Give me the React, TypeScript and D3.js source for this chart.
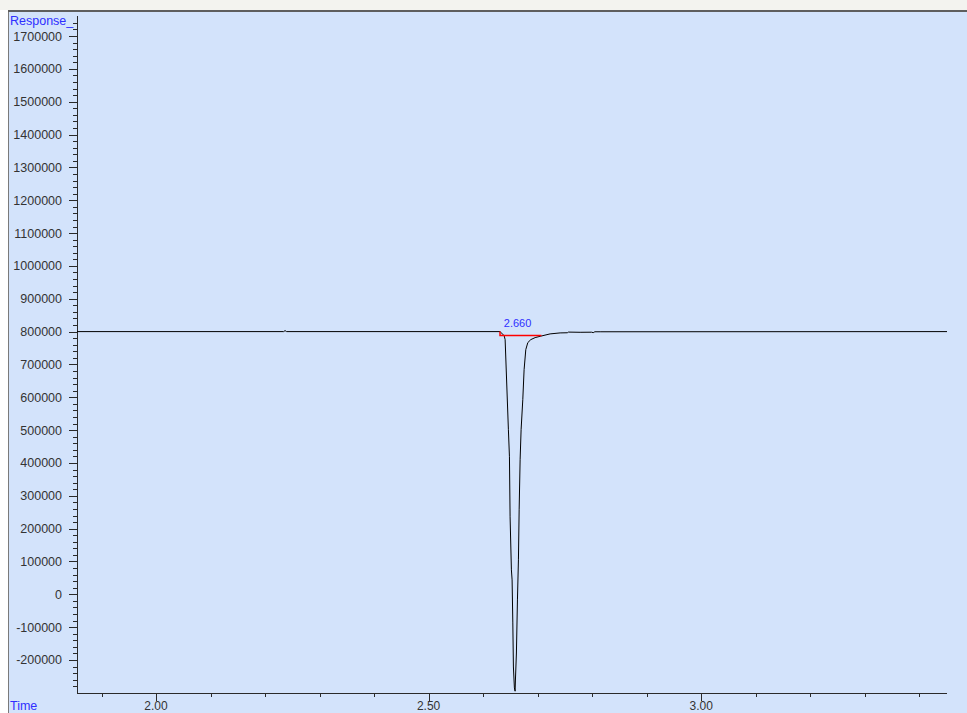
import React from "react";
import * as d3 from "d3";

// trace points (time in min, response)
const times = [
  1.855, 2.234, 2.2367, 2.2395, 2.631, 2.6385, 2.6404, 2.6464, 2.6483, 2.6495,
  2.6519, 2.6532, 2.6545, 2.6556, 2.6574, 2.6587, 2.6593, 2.6611, 2.663,
  2.6648, 2.6661, 2.6679, 2.6697, 2.6728, 2.6752, 2.6783, 2.682, 2.6875,
  2.6954, 2.7046, 2.7229, 2.7413, 2.7545, 2.7565, 2.778, 2.799, 2.802, 2.805,
  2.8147, 3.451,
];
const responses = [
  800000, 800000, 803000, 800000, 800000, 787800, 775600, 501200, 418900,
  236000, 74400, 43900, -87200, -221300, -285000, -295000, -261000, -178700,
  -17000, 105000, 257300, 409800, 501200, 592700, 684100, 745100, 766500,
  775600, 781700, 785700, 793000, 796000, 796500, 798500, 797900, 798200,
  796800, 799500, 799500, 800000,
];

// integration baseline (red)
const baseTimes = [2.631, 2.631, 2.707];
const baseValues = [800000, 788500, 788500];

const peakLabel = "2.660";
const peakTime = 2.66;

const majorY = d3.range(-200000, 1700001, 100000);
const minorY = d3.range(-280000, 1740001, 20000).filter((v) => v % 100000 !== 0);
const majorX = [2.0, 2.5, 3.0];
const minorX = [1.9, 2.1, 2.2, 2.3, 2.4, 2.6, 2.7, 2.8, 2.9, 3.1, 3.2, 3.3, 3.4];

const W = 967;
const H = 713;

export default function App() {
  const x = d3.scaleLinear().domain([1.855, 3.451]).range([77, 947]);
  const y = d3.scaleLinear().domain([-300500, 1758000]).range([693, 17]);

  const pts: [number, number][] = times.map((t, i) => [t, responses[i]]);
  const basePts: [number, number][] = baseTimes.map((t, i) => [t, baseValues[i]]);

  const line = d3
    .line<[number, number]>()
    .x((d) => x(d[0]))
    .y((d) => y(d[1]));

  const font = "'Liberation Sans', Arial, sans-serif";
  const axisColor = "#2a2a2a";

  return (
    <svg
      width={W}
      height={H}
      style={{ position: "absolute", left: 0, top: 0, display: "block" }}
      fontFamily={font}
    >
      <rect x={0} y={0} width={W} height={H} fill="#ffffff" />
      <rect x={0} y={0} width={W} height={10} fill="#f3f3ef" />
      <rect x={9} y={12} width={W - 9} height={H - 12} fill="#d3e3fb" />
      <line x1={8.5} x2={8.5} y1={10} y2={H} stroke="#7a7a7a" />
      <line x1={8} x2={W} y1={11} y2={11} stroke="#5e5e5e" strokeWidth={2} />

      {/* y axis */}
      <line x1={77.5} x2={77.5} y1={16} y2={693} stroke={axisColor} />
      {minorY.map((v) => (
        <line key={"my" + v} x1={73} x2={77} y1={Math.round(y(v)) + 0.5} y2={Math.round(y(v)) + 0.5} stroke={axisColor} />
      ))}
      {majorY.map((v) => (
        <g key={"y" + v}>
          <line x1={69} x2={77} y1={Math.round(y(v)) + 0.5} y2={Math.round(y(v)) + 0.5} stroke={axisColor} />
          <text x={62} y={y(v)} dy="0.36em" textAnchor="end" fontSize={12.5} fill="#333">
            {v}
          </text>
        </g>
      ))}
      <text x={10} y={25} fontSize={12.5} fill="#2f2fff">
        Response_
      </text>

      {/* x axis */}
      <line x1={77} x2={947} y1={693.5} y2={693.5} stroke={axisColor} />
      {minorX.map((t) => (
        <line key={"mx" + t} x1={Math.round(x(t)) + 0.5} x2={Math.round(x(t)) + 0.5} y1={693} y2={697} stroke={axisColor} />
      ))}
      {majorX.map((t) => (
        <g key={"x" + t}>
          <line x1={Math.round(x(t)) + 0.5} x2={Math.round(x(t)) + 0.5} y1={693} y2={701} stroke={axisColor} />
          <text x={x(t)} y={710} textAnchor="middle" fontSize={12} fill="#333">
            {t.toFixed(2)}
          </text>
        </g>
      ))}
      <text x={10} y={710} fontSize={12.5} fill="#2f2fff">
        Time
      </text>

      {/* trace */}
      <path d={line(pts) ?? ""} fill="none" stroke="#000" strokeWidth={1} />
      <path d={line(basePts) ?? ""} fill="none" stroke="#ff0000" strokeWidth={1.5} />
      <text x={x(peakTime) - 12} y={y(800000) - 5} fontSize={11} fill="#2f2fff">
        {peakLabel}
      </text>
    </svg>
  );
}
